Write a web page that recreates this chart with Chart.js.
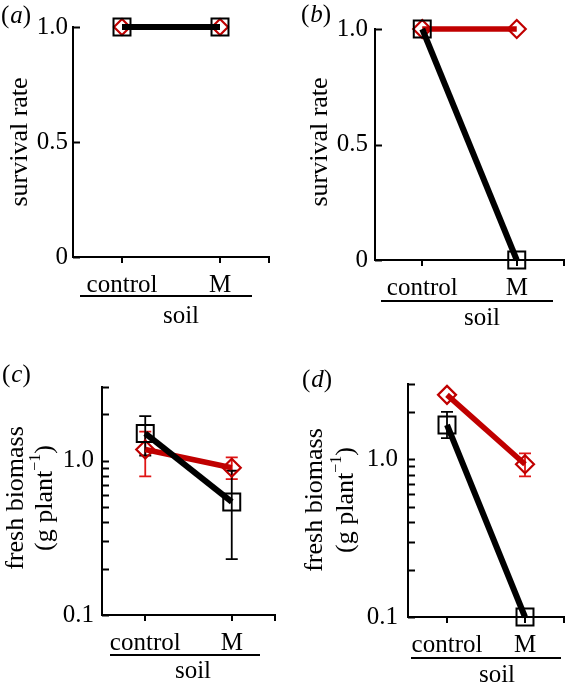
<!DOCTYPE html>
<html>
<head>
<meta charset="utf-8">
<script src="https://cdn.jsdelivr.net/npm/chart.js@4.4.1/dist/chart.umd.min.js"></script>
<style>
  body { margin: 0; background: #fff; }
  #wrap { position: relative; width: 578px; height: 687px; }
  canvas { position: absolute; }
</style>
</head>
<body>
<div id="wrap">
  <canvas id="pa" width="289" height="330" style="left:0;top:0"></canvas>
  <canvas id="pb" width="289" height="330" style="left:289px;top:0"></canvas>
  <canvas id="pc" width="289" height="357" style="left:0;top:330px"></canvas>
  <canvas id="pd" width="289" height="357" style="left:289px;top:330px"></canvas>
</div>
<script>
// soil treatments on the x axis
const soil = ['control', 'M'];

// (a) survival rate
const survA_black = [1, 1];
const survA_red = [1, 1];

// (b) survival rate
const survB_black = [1, 0];
const survB_red = [1, 1];

// (c) fresh biomass, g per plant (mean, lower, upper)
const bioC_black = [1.50, 0.54];
const bioC_black_lo = [1.08, 0.23];
const bioC_black_hi = [1.94, 0.86];
const bioC_red = [1.18, 0.90];
const bioC_red_lo = [0.79, 0.76];
const bioC_red_hi = [1.54, 1.05];

// (d) fresh biomass
const bioD_black = [1.65, 0.1];
const bioD_black_lo = [1.36, 0.1];
const bioD_black_hi = [2.0, 0.1];
const bioD_red = [2.56, 0.93];
const bioD_red_lo = [2.56, 0.78];
const bioD_red_hi = [2.56, 1.09];

// tick values
const survTicks = [0, 0.5, 1];
const bioTicks = [0.1, 0.2, 0.3, 0.4, 0.5, 0.6, 0.7, 0.8, 0.9, 1, 2, 3];

const FONT = '"Liberation Serif", "Times New Roman", serif';
const BLACK = '#000000';
const RED = '#c00000';
const ERR_RED = '#e01515';

function drawRotated(ctx, x, y, parts) {
    ctx.save();
    ctx.translate(x, y);
    ctx.rotate(-Math.PI / 2);
    ctx.textBaseline = 'middle';
    ctx.textAlign = 'left';
    let total = 0;
    parts.forEach(p => { ctx.font = p.font; total += ctx.measureText(p.text).width; });
    let cx = -total / 2;
    parts.forEach(p => {
        ctx.font = p.font;
        ctx.fillText(p.text, cx, p.dy || 0);
        cx += ctx.measureText(p.text).width;
    });
    ctx.restore();
}

function drawLetter(ctx, x, y, letter) {
    ctx.save();
    ctx.textBaseline = 'middle';
    ctx.textAlign = 'left';
    ctx.fillStyle = '#000';
    let cx = x;
    [['(', '25px ' + FONT], [letter, 'italic 25px ' + FONT], [')', '25px ' + FONT]].forEach(([t, f]) => {
        ctx.font = f;
        ctx.fillText(t, cx, y);
        cx += ctx.measureText(t).width + (t === '(' ? 1 : 0);
    });
    ctx.restore();
}

function decor(spec) {
    return {
        id: 'decor' + spec.letter,
        beforeDatasetsDraw(chart) {
            const ctx = chart.ctx;
            const xs = chart.scales.x, ys = chart.scales.y;
            (spec.errors || []).forEach(e => {
                ctx.save();
                ctx.strokeStyle = e.color;
                ctx.lineWidth = 1.8;
                e.lo.forEach((lo, i) => {
                    const hi = e.hi[i];
                    if (lo === hi) return;
                    const px = xs.getPixelForValue(i);
                    const y1 = ys.getPixelForValue(lo), y2 = ys.getPixelForValue(hi);
                    ctx.beginPath();
                    ctx.moveTo(px, y1); ctx.lineTo(px, y2);
                    ctx.moveTo(px - 6, y1); ctx.lineTo(px + 6, y1);
                    ctx.moveTo(px - 6, y2); ctx.lineTo(px + 6, y2);
                    ctx.stroke();
                });
                ctx.restore();
            });
        },
        afterDraw(chart) {
            const ctx = chart.ctx;
            const area = chart.chartArea;
            const xs = chart.scales.x, ys = chart.scales.y;
            ctx.save();
            ctx.strokeStyle = '#000';
            ctx.lineWidth = 2;
            ctx.beginPath();
            // inward ticks on y
            ys.ticks.forEach(t => {
                const py = Math.round(ys.getPixelForValue(t.value)) + 0.5;
                ctx.moveTo(area.left, py);
                ctx.lineTo(area.left + 7, py);
            });
            // outward ticks on x, plus the right end
            soil.forEach((s, i) => {
                const px = Math.round(xs.getPixelForValue(i));
                ctx.moveTo(px, area.bottom);
                ctx.lineTo(px, area.bottom + 6);
            });
            ctx.moveTo(area.right, area.bottom);
            ctx.lineTo(area.right, area.bottom + 6);
            ctx.stroke();

            // underline and "soil"
            ctx.beginPath();
            ctx.moveTo(spec.under[0], spec.under[2]);
            ctx.lineTo(spec.under[1], spec.under[2]);
            ctx.stroke();
            ctx.fillStyle = '#000';
            ctx.font = '25px ' + FONT;
            ctx.textAlign = 'center';
            ctx.textBaseline = 'alphabetic';
            ctx.fillText('soil', spec.soilPos[0], spec.soilPos[1]);
            ctx.restore();

            ctx.fillStyle = '#000';
            spec.yTitle.forEach(line => drawRotated(ctx, line.x, line.y, line.parts));
            drawLetter(ctx, spec.letterPos[0], spec.letterPos[1], spec.letter);
        }
    };
}

function lineSet(data, color, isBlack, big) {
    return {
        data: data,
        borderColor: color,
        backgroundColor: color,
        borderWidth: isBlack ? 6 : 5.5,
        pointStyle: isBlack ? 'rect' : 'rectRot',
        pointRadius: isBlack ? 12 : (big ? 9 : 8),
        pointBorderWidth: isBlack ? 2 : 2.2,
        pointBorderColor: color,
        pointBackgroundColor: 'rgba(0,0,0,0)',
        clip: false
    };
}

function makePanel(spec) {
    const canvas = document.getElementById(spec.id);
    const W = canvas.width, H = canvas.height;
    const a = spec.area;
    const yScale = spec.log ? {
        type: 'logarithmic',
        min: 0.1,
        max: 3,
        afterBuildTicks: s => { s.ticks = bioTicks.map(v => ({ value: v })); },
        ticks: {
            autoSkip: false,
            padding: spec.ypad,
            color: '#000',
            font: { family: FONT, size: 25 },
            callback: v => v === 0.1 ? '0.1' : (v === 1 ? '1.0' : '')
        }
    } : {
        type: 'linear',
        min: 0,
        max: 1,
        afterBuildTicks: s => { s.ticks = survTicks.map(v => ({ value: v })); },
        ticks: {
            autoSkip: false,
            padding: spec.ypad,
            color: '#000',
            font: { family: FONT, size: 25 },
            callback: v => v === 0 ? '0' : v.toFixed(1)
        }
    };
    Object.assign(yScale, {
        grid: { display: false, drawTicks: false },
        border: { display: true, color: '#000', width: 2 },
        afterFit: s => { s.width = a.l; }
    });

    new Chart(canvas, {
        type: 'line',
        data: { labels: soil, datasets: spec.datasets },
        options: {
            responsive: false,
            animation: false,
            events: [],
            layout: { padding: { top: a.t, right: W - a.r, left: 0, bottom: 0 } },
            plugins: { legend: { display: false }, tooltip: { enabled: false } },
            scales: {
                x: {
                    type: 'category',
                    offset: true,
                    grid: { display: false, drawTicks: false },
                    border: { display: true, color: '#000', width: 2 },
                    ticks: { color: '#000', padding: 13, font: { family: FONT, size: 25 }, maxRotation: 0 },
                    afterFit: s => { s.height = H - a.b; }
                },
                y: yScale
            }
        },
        plugins: [decor(spec)]
    });
}

const survTitle = x => [{ x: x, y: 142, parts: [{ text: 'survival rate', font: '26px ' + FONT }] }];
const bioTitle = (x1, x2, y) => [
    { x: x1, y: y, parts: [{ text: 'fresh biomass', font: '26px ' + FONT }] },
    { x: x2, y: y, parts: [
        { text: '(g plant', font: '26px ' + FONT },
        { text: '\u22121', font: '16px ' + FONT, dy: -9 },
        { text: ')', font: '26px ' + FONT }
    ] }
];

makePanel({
    id: 'pa', letter: 'a', log: false, ypad: 5,
    area: { l: 73, r: 269, t: 27, b: 257 },
    datasets: [lineSet(survA_black, BLACK, true), lineSet(survA_red, RED, false, false)],
    under: [80, 252, 296], soilPos: [181, 323],
    yTitle: survTitle(20), letterPos: [1, 16]
});

makePanel({
    id: 'pb', letter: 'b', log: false, ypad: 7,
    area: { l: 86, r: 282, t: 29, b: 260 },
    datasets: [lineSet(survB_black, BLACK, true), lineSet(survB_red, RED, false, true)],
    under: [92, 264, 301], soilPos: [193, 325],
    yTitle: survTitle(31), letterPos: [12, 15]
});

makePanel({
    id: 'pc', letter: 'c', log: true, ypad: 8,
    area: { l: 102, r: 278, t: 57, b: 285 },
    datasets: [lineSet(bioC_black, BLACK, true), lineSet(bioC_red, RED, false, true)],
    errors: [
        { lo: bioC_red_lo, hi: bioC_red_hi, color: ERR_RED },
        { lo: bioC_black_lo, hi: bioC_black_hi, color: BLACK }
    ],
    under: [110, 260, 325], soilPos: [193, 348],
    yTitle: bioTitle(16, 45, 168), letterPos: [2, 45]
});

makePanel({
    id: 'pd', letter: 'd', log: true, ypad: 10,
    area: { l: 119, r: 286, t: 54, b: 287 },
    datasets: [lineSet(bioD_black, BLACK, true), lineSet(bioD_red, RED, false, true)],
    errors: [
        { lo: bioD_red_lo, hi: bioD_red_hi, color: ERR_RED },
        { lo: bioD_black_lo, hi: bioD_black_hi, color: BLACK }
    ],
    under: [122, 272, 328], soilPos: [208, 352],
    yTitle: bioTitle(26, 57, 170), letterPos: [13, 50]
});
</script>
</body>
</html>
